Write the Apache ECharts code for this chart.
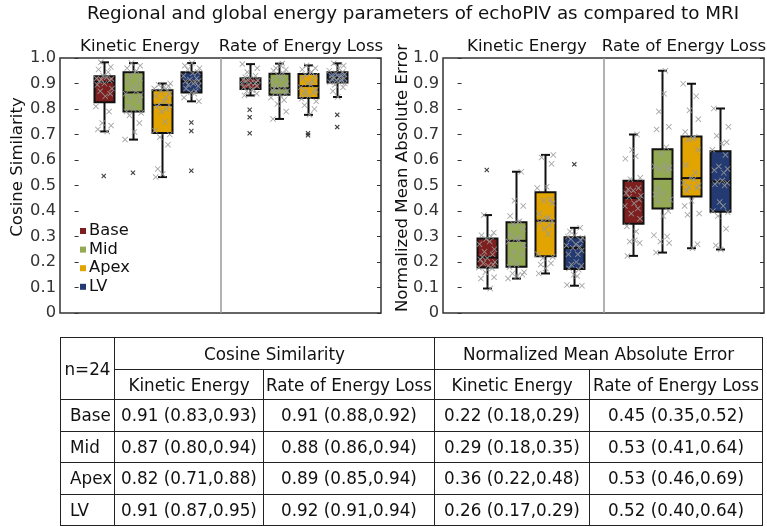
<!DOCTYPE html>
<html>
<head>
<meta charset="utf-8">
<script src="https://cdn.jsdelivr.net/npm/echarts@6/dist/echarts.min.js"></script>
<style>
html,body{margin:0;padding:0;background:#fff;}
#wrap{position:relative;width:767px;height:527px;overflow:hidden;background:#fff;}
#chart{position:absolute;left:0;top:0;width:767px;height:527px;}
#tbl{position:absolute;left:60px;top:337px;width:702px;border-collapse:collapse;table-layout:fixed;font-family:'DejaVu Sans';font-size:16.8px;color:#111;}
#tbl td{border:1.5px solid #222;padding:0;text-align:center;white-space:nowrap;overflow:visible;}
#tbl td.lab{text-align:left;padding-left:9px;}
</style>
</head>
<body>
<div id="wrap">
<div id="chart"></div>
<table id="tbl">
<colgroup><col style="width:54px"><col style="width:149px"><col style="width:171px"><col style="width:155px"><col style="width:173px"></colgroup>
<tbody id="tb"></tbody>
</table>
</div>
<script>
// ---------- data ----------
const regions = ['Base', 'Mid', 'Apex', 'LV'];
const groups = ['Kinetic Energy', 'Rate of Energy Loss'];
const metrics = ['Cosine Similarity', 'Normalized Mean Absolute Error'];
const yTicks = [0, 0.1, 0.2, 0.3, 0.4, 0.5, 0.6, 0.7, 0.8, 0.9, 1.0];

// box stats: [whisker low, Q1, median, Q3, whisker high]
const csKineticBox = [
  [0.712, 0.826, 0.906, 0.928, 0.983],
  [0.680, 0.790, 0.865, 0.944, 0.980],
  [0.533, 0.706, 0.816, 0.874, 0.900],
  [0.830, 0.865, 0.908, 0.944, 0.980]];
const csLossBox = [
  [0.853, 0.878, 0.902, 0.921, 0.976],
  [0.761, 0.856, 0.881, 0.938, 0.978],
  [0.777, 0.843, 0.890, 0.937, 0.971],
  [0.847, 0.904, 0.921, 0.944, 0.979]];
const nmaeKineticBox = [
  [0.096, 0.178, 0.218, 0.292, 0.384],
  [0.135, 0.181, 0.283, 0.356, 0.554],
  [0.155, 0.223, 0.362, 0.474, 0.620],
  [0.107, 0.173, 0.255, 0.297, 0.334]];
const nmaeLossBox = [
  [0.224, 0.350, 0.451, 0.519, 0.700],
  [0.237, 0.410, 0.526, 0.642, 0.950],
  [0.254, 0.457, 0.529, 0.692, 0.899],
  [0.249, 0.397, 0.515, 0.634, 0.802]];

// outliers (fliers)
const csKineticOut = [[0.537], [0.550], [], [0.747, 0.714, 0.558]];
const csLossOut = [[0.797, 0.768, 0.705], [], [0.705, 0.697], [0.777, 0.729]];
const nmaeKineticOut = [[0.561], [], [], [0.583]];
const nmaeLossOut = [[], [], [], []];

// individual subjects (within whiskers)
const csKineticPts = [
  [0.712,0.72,0.735,0.745,0.79,0.81,0.85,0.86,0.87,0.88,0.895,0.90,0.91,0.912,0.915,0.918,0.92,0.925,0.93,0.945,0.955,0.965,0.983],
  [0.68,0.71,0.745,0.775,0.785,0.79,0.80,0.81,0.83,0.845,0.855,0.86,0.87,0.88,0.895,0.905,0.92,0.93,0.944,0.95,0.96,0.97,0.98],
  [0.533,0.545,0.565,0.66,0.69,0.70,0.715,0.75,0.79,0.80,0.81,0.815,0.818,0.83,0.845,0.85,0.86,0.87,0.875,0.88,0.885,0.89,0.895,0.90],
  [0.83,0.845,0.86,0.865,0.87,0.88,0.89,0.895,0.90,0.905,0.908,0.91,0.915,0.92,0.93,0.94,0.945,0.955,0.96,0.97,0.98]];
const csLossPts = [
  [0.853,0.86,0.87,0.875,0.878,0.885,0.89,0.895,0.90,0.90,0.902,0.905,0.91,0.912,0.915,0.92,0.925,0.93,0.945,0.96,0.976],
  [0.761,0.79,0.82,0.835,0.845,0.855,0.86,0.865,0.87,0.875,0.878,0.88,0.885,0.89,0.90,0.91,0.92,0.93,0.94,0.95,0.955,0.96,0.97,0.978],
  [0.777,0.80,0.815,0.83,0.84,0.85,0.86,0.865,0.87,0.875,0.885,0.895,0.90,0.91,0.92,0.93,0.935,0.94,0.945,0.955,0.96,0.971],
  [0.847,0.87,0.885,0.895,0.90,0.905,0.91,0.912,0.915,0.918,0.92,0.922,0.925,0.928,0.93,0.935,0.94,0.945,0.95,0.96,0.97,0.979]];
const nmaeKineticPts = [
  [0.096,0.135,0.14,0.16,0.175,0.178,0.185,0.19,0.195,0.20,0.21,0.215,0.22,0.23,0.24,0.25,0.27,0.28,0.29,0.30,0.305,0.315,0.384],
  [0.135,0.145,0.15,0.155,0.16,0.18,0.19,0.21,0.23,0.24,0.265,0.28,0.285,0.29,0.30,0.31,0.33,0.35,0.355,0.36,0.38,0.42,0.44,0.554],
  [0.155,0.175,0.19,0.195,0.215,0.22,0.23,0.31,0.33,0.345,0.355,0.36,0.365,0.37,0.375,0.39,0.43,0.44,0.445,0.49,0.495,0.585,0.61,0.62],
  [0.107,0.11,0.145,0.15,0.17,0.175,0.185,0.19,0.20,0.23,0.23,0.245,0.255,0.26,0.265,0.27,0.285,0.29,0.295,0.30,0.305,0.32,0.334]];
const nmaeLossPts = [
  [0.224,0.275,0.28,0.285,0.32,0.34,0.37,0.39,0.41,0.42,0.43,0.445,0.455,0.46,0.47,0.48,0.485,0.49,0.525,0.53,0.605,0.615,0.64,0.70],
  [0.237,0.275,0.28,0.30,0.305,0.38,0.40,0.44,0.445,0.465,0.47,0.49,0.56,0.565,0.57,0.575,0.58,0.625,0.65,0.72,0.73,0.79,0.86,0.95],
  [0.254,0.27,0.385,0.39,0.42,0.44,0.48,0.49,0.495,0.50,0.51,0.525,0.53,0.55,0.58,0.64,0.68,0.685,0.69,0.71,0.76,0.795,0.85,0.899],
  [0.249,0.265,0.33,0.38,0.395,0.40,0.42,0.435,0.50,0.505,0.51,0.515,0.52,0.55,0.56,0.565,0.575,0.62,0.64,0.665,0.67,0.695,0.73,0.802]];

// hand-set horizontal spread of the subject markers (in slot units)
const jitter = [0.12,-0.2,0.25,-0.05,0.18,-0.27,0.05,0.22,-0.12,0.28,-0.22,0.02,-0.15,0.2,-0.08,0.26,-0.25,0.1,-0.02,0.15,-0.18,0.24,-0.1,0.07];

// table
const tableN = 'n=24';
const tblCsKinetic = ['0.91 (0.83,0.93)', '0.87 (0.80,0.94)', '0.82 (0.71,0.88)', '0.91 (0.87,0.95)'];
const tblCsLoss = ['0.91 (0.88,0.92)', '0.88 (0.86,0.94)', '0.89 (0.85,0.94)', '0.92 (0.91,0.94)'];
const tblNmaeKinetic = ['0.22 (0.18,0.29)', '0.29 (0.18,0.35)', '0.36 (0.22,0.48)', '0.26 (0.17,0.29)'];
const tblNmaeLoss = ['0.45 (0.35,0.52)', '0.53 (0.41,0.64)', '0.53 (0.46,0.69)', '0.52 (0.40,0.64)'];

const title = 'Regional and global energy parameters of echoPIV as compared to MRI';

// ---------- styles ----------
const colors = ['#7d1f1f', '#94a953', '#e1a400', '#233a72'];
const FONT = 'DejaVu Sans';

// ---------- table ----------
(function () {
  const tb = document.getElementById('tb');
  let h = '';
  h += '<tr style="height:32px"><td rowspan="2">' + tableN + '</td><td colspan="2">' + metrics[0] + '</td><td colspan="2">' + metrics[1] + '</td></tr>';
  h += '<tr style="height:30px"><td>' + groups[0] + '</td><td>' + groups[1] + '</td><td>' + groups[0] + '</td><td>' + groups[1] + '</td></tr>';
  regions.forEach(function (r, i) {
    h += '<tr style="height:31.5px"><td class="lab">' + r + '</td><td>' + tblCsKinetic[i] + '</td><td>' + tblCsLoss[i] + '</td><td>' + tblNmaeKinetic[i] + '</td><td>' + tblNmaeLoss[i] + '</td></tr>';
  });
  tb.innerHTML = h;
})();

// ---------- chart ----------
const chart = echarts.init(document.getElementById('chart'), null, { renderer: 'canvas' });

function slotOf(g, r) { return g * 5 + r + 1; }

const crossThin = 'path://M0,1L1,0L5,4L9,0L10,1L6,5L10,9L9,10L5,6L1,10L0,9L4,5Z';
const crossBold = 'path://M0,1.6L1.6,0L5,3.4L8.4,0L10,1.6L6.6,5L10,8.4L8.4,10L5,6.6L1.6,10L0,8.4L3.4,5Z';

function renderBox(params, api) {
  const x = api.value(0);
  const lo = api.coord([x, api.value(1)]);
  const q1 = api.coord([x, api.value(2)]);
  const md = api.coord([x, api.value(3)]);
  const q3 = api.coord([x, api.value(4)]);
  const hi = api.coord([x, api.value(5)]);
  const cx = Math.round(lo[0]) + 0.5;
  const hw = 10, cw = 4.5;
  const ls = { stroke: '#111', lineWidth: 2 };
  return {
    type: 'group',
    children: [
      { type: 'line', shape: { x1: cx, y1: q3[1], x2: cx, y2: hi[1] }, style: ls },
      { type: 'line', shape: { x1: cx, y1: q1[1], x2: cx, y2: lo[1] }, style: ls },
      { type: 'line', shape: { x1: cx - cw, y1: hi[1], x2: cx + cw, y2: hi[1] }, style: ls },
      { type: 'line', shape: { x1: cx - cw, y1: lo[1], x2: cx + cw, y2: lo[1] }, style: ls },
      { type: 'rect', shape: { x: cx - hw, y: q3[1], width: 2 * hw, height: q1[1] - q3[1] },
        style: { fill: api.visual('color'), stroke: '#111', lineWidth: 2 } },
      { type: 'line', shape: { x1: cx - hw, y1: md[1], x2: cx + hw, y2: md[1] }, style: ls }
    ]
  };
}

const panels = [
  { boxes: [csKineticBox, csLossBox], pts: [csKineticPts, csLossPts], outs: [csKineticOut, csLossOut] },
  { boxes: [nmaeKineticBox, nmaeLossBox], pts: [nmaeKineticPts, nmaeLossPts], outs: [nmaeKineticOut, nmaeLossOut] }
];

const grids = [
  { left: 60, right: 386, top: 58, bottom: 214 },
  { left: 443, right: 3, top: 58, bottom: 214 }
].map(function (g) {
  return Object.assign({ show: true, borderColor: '#333', borderWidth: 1.5, backgroundColor: 'transparent', containLabel: false }, g);
});

const xAxes = [0, 1].map(function (i) {
  return { type: 'value', gridIndex: i, min: -0.5, max: 10.5, show: false };
});

const yAxes = [];
[0, 1].forEach(function (i) {
  yAxes.push({
    type: 'value', gridIndex: i, min: yTicks[0], max: yTicks[yTicks.length - 1], interval: 0.1, position: 'left',
    axisLine: { show: false },
    axisTick: { show: true, inside: true, length: 4, lineStyle: { color: '#333', width: 1 } },
    splitLine: { show: false },
    axisLabel: {
      margin: 4, fontSize: 16.3, fontFamily: FONT, color: '#333',
      formatter: function (v) { return v === 0 ? '0' : v.toFixed(1); }
    }
  });
  yAxes.push({
    type: 'value', gridIndex: i, min: yTicks[0], max: yTicks[yTicks.length - 1], interval: 0.1, position: 'right',
    axisLine: { show: false },
    axisTick: { show: true, inside: true, length: 4, lineStyle: { color: '#333', width: 1 } },
    splitLine: { show: false },
    axisLabel: { show: false }
  });
});

const series = [];
panels.forEach(function (p, pi) {
  regions.forEach(function (name, r) {
    series.push({
      type: 'custom', name: name, xAxisIndex: pi, yAxisIndex: pi * 2, z: 2,
      itemStyle: { color: colors[r] },
      encode: { x: 0, y: [1, 2, 3, 4, 5] },
      renderItem: renderBox,
      data: [0, 1].map(function (g) { return [slotOf(g, r)].concat(p.boxes[g][r]); })
    });
  });
  const pts = [];
  const outs = [];
  [0, 1].forEach(function (g) {
    regions.forEach(function (name, r) {
      const b = g * 4 + r;
      p.pts[g][r].forEach(function (v, k) {
        pts.push([slotOf(g, r) + jitter[(k + 5 * b) % jitter.length], v]);
      });
      p.outs[g][r].forEach(function (v) { outs.push([slotOf(g, r), v]); });
    });
  });
  series.push({
    type: 'scatter', xAxisIndex: pi, yAxisIndex: pi * 2, z: 3, silent: true,
    symbol: crossThin, symbolSize: 6,
    itemStyle: { color: '#9a9a9a', opacity: 0.9 },
    data: pts,
    markLine: {
      silent: true, symbol: 'none', label: { show: false }, animation: false,
      lineStyle: { color: '#999', width: 1.5, type: 'solid' },
      data: [{ xAxis: 5 }]
    }
  });
  series.push({
    type: 'scatter', xAxisIndex: pi, yAxisIndex: pi * 2, z: 4, silent: true,
    symbol: crossBold, symbolSize: 5,
    itemStyle: { color: '#111' },
    data: outs
  });
});

function txt(x, y, s, size, rot) {
  return {
    type: 'text', x: x, y: y, rotation: rot || 0, silent: true,
    style: { text: s, x: 0, y: 0, align: 'center', verticalAlign: 'middle', font: size + 'px "' + FONT + '"', fill: '#111' }
  };
}

const option = {
  animation: false,
  backgroundColor: '#fff',
  grid: grids,
  xAxis: xAxes,
  yAxis: yAxes,
  legend: {
    data: regions, orient: 'vertical', left: 80, top: 223, padding: 0,
    icon: 'rect', itemWidth: 6, itemHeight: 6, itemGap: 2.6,
    textStyle: { fontSize: 16.3, fontFamily: FONT, color: '#111', lineHeight: 16, padding: [0, 0, 0, -2] }
  },
  graphic: [
    txt(413, 14, title, 18.3),
    txt(140, 47, groups[0], 16.6),
    txt(301, 47, groups[1], 16.6),
    txt(527, 47, groups[0], 16.6),
    txt(684, 47, groups[1], 16.6),
    txt(18, 167, metrics[0], 16.6, Math.PI / 2),
    txt(403, 178, metrics[1], 16.6, Math.PI / 2)
  ],
  series: series
};
chart.setOption(option);
</script>
</body>
</html>
